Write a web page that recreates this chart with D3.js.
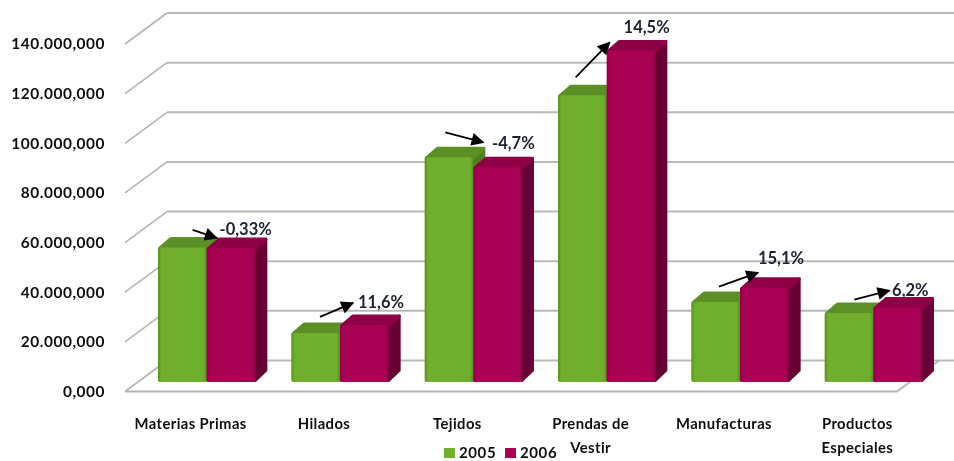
<!DOCTYPE html>
<html>
<head>
<meta charset="utf-8">
<script src="https://cdn.jsdelivr.net/npm/d3@7"></script>
<style>
  html, body { margin: 0; padding: 0; background: #fff; overflow: hidden; }
  text { font-family: "Lato", "Open Sans", sans-serif; fill: #111; }
  .ytick text { font-size: 15.4px; font-weight: 700; letter-spacing: 0.55px; }
  .xlabel { font-size: 14.8px; font-weight: 700; letter-spacing: 0.4px; }
  .pct { font-size: 16.5px; font-weight: 700; fill: #1a2230; }
  .legend-text { font-size: 15px; font-weight: 700; letter-spacing: 0.6px; }
</style>
</head>
<body>
<script>
// Chart data
var categories = ["Materias Primas", "Hilados", "Tejidos", "Prendas de Vestir", "Manufacturas", "Productos Especiales"];
var values2005 = [54200000, 19700000, 90500000, 115500000, 32200000, 27800000];
var values2006 = [54000000, 23000000, 86500000, 133600000, 38000000, 30000000];
var changeLabels = ["-0,33%", "11,6%", "-4,7%", "14,5%", "15,1%", "6,2%"];
var seriesNames = ["2005", "2006"];
var yTickValues = [0, 20000000, 40000000, 60000000, 80000000, 100000000, 120000000, 140000000];
var yTickLabels = ["0,000", "20.000,000", "40.000,000", "60.000,000", "80.000,000", "100.000,000", "120.000,000", "140.000,000"];

// Define SVG area dimensions
var svgWidth = 954;
var svgHeight = 461;

// Fake 3D: how far the back wall sits from the front edge of the floor
var wallDx = 42;
var wallDy = 31;
// Bars stand a little behind the front edge, and have their own depth
var barInsetY = 9.5;
var barDepthX = 12;
var barDepthY = 10.5;

var colors = {
  "2005": { front: "#70ae2f", edge: "#578f22", top: "#5c8f26", side: "#4f7f1f" },
  "2006": { front: "#a80052", edge: "#8f0045", top: "#8d0044", side: "#680034" }
};

var svg = d3.select("body")
  .append("svg")
  .attr("width", svgWidth)
  .attr("height", svgHeight);

var defs = svg.append("defs");

// The reference is a soft, upscaled image
defs.append("filter")
  .attr("id", "soft")
  .attr("x", "-5%").attr("y", "-5%").attr("width", "110%").attr("height", "110%")
  .append("feGaussianBlur")
  .attr("stdDeviation", 0.45);

seriesNames.forEach(function(name) {
  var grad = defs.append("linearGradient").attr("id", "front" + name);
  grad.append("stop").attr("offset", "0%").attr("stop-color", colors[name].edge);
  grad.append("stop").attr("offset", "7%").attr("stop-color", colors[name].front);
  grad.append("stop").attr("offset", "93%").attr("stop-color", colors[name].front);
  grad.append("stop").attr("offset", "100%").attr("stop-color", colors[name].edge);
});

var chartGroup = svg.append("g").attr("filter", "url(#soft)");

// Scales work on the front plane of the chart
var yScale = d3.scaleLinear()
  .domain([0, 140000000])
  .range([391.5, 44]);

var xBand = d3.scaleBand()
  .domain(categories)
  .range([140, 940])
  .paddingInner(0.27)
  .paddingOuter(0.135);

var xSeries = d3.scaleBand()
  .domain(seriesNames)
  .range([0, xBand.bandwidth()]);

var frontLeft = 125;
var frontRight = 897;

// Back wall and slanted lines
var grid = chartGroup.append("g");

yTickValues.forEach(function(v) {
  var y = yScale(v);
  grid.append("line")
    .attr("x1", frontLeft).attr("y1", y)
    .attr("x2", frontLeft + wallDx).attr("y2", y - wallDy)
    .attr("stroke", "#b4b4b4").attr("stroke-width", 1.6);
  grid.append("line")
    .attr("x1", frontLeft + wallDx).attr("y1", y - wallDy)
    .attr("x2", svgWidth).attr("y2", y - wallDy)
    .attr("stroke", "#b9b9b9").attr("stroke-width", 2);
});

// Floor front edge and right side
grid.append("path")
  .attr("d", d3.line()([
    [frontLeft, yScale(0)],
    [frontRight, yScale(0)],
    [frontRight + wallDx, yScale(0) - wallDy]
  ]))
  .attr("fill", "none")
  .attr("stroke", "#b4b4b4")
  .attr("stroke-width", 2);

// Left axis, only its labels are visible
var leftAxis = d3.axisLeft(yScale)
  .tickValues(yTickValues)
  .tickSize(0)
  .tickPadding(0)
  .tickFormat(function(d, i) { return yTickLabels[i]; });

chartGroup.append("g")
  .attr("class", "ytick")
  .attr("transform", "translate(105, 0)")
  .call(leftAxis)
  .call(function(g) { g.select(".domain").remove(); });

// One series per loop, 2005 first so that 2006 covers its side
var line = d3.line();
var rows = [];
categories.forEach(function(cat, i) {
  rows.push({ cat: cat, name: "2005", value: values2005[i] });
  rows.push({ cat: cat, name: "2006", value: values2006[i] });
});

var bars = chartGroup.selectAll(".bar")
  .data(rows)
  .enter()
  .append("g")
  .attr("class", "bar");

bars.each(function(d) {
  var g = d3.select(this);
  var x0 = xBand(d.cat) + xSeries(d.name);
  var w = xSeries.bandwidth();
  var yBase = yScale(0) - barInsetY;
  var yTop = yScale(d.value) - barInsetY;

  // side face
  g.append("path")
    .attr("d", line([
      [x0 + w, yTop],
      [x0 + w + barDepthX - 1, yTop - barDepthY + 1],
      [x0 + w + barDepthX - 1, yBase - barDepthY - 1],
      [x0 + w, yBase - 1]
    ]) + "Z")
    .attr("fill", colors[d.name].side)
    .attr("stroke", colors[d.name].side)
    .attr("stroke-width", 2)
    .attr("stroke-linejoin", "round");

  // top face, the thick round stroke gives the soft corners
  g.append("path")
    .attr("d", line([
      [x0 + 2, yTop + 1],
      [x0 + barDepthX + 1, yTop - barDepthY + 2],
      [x0 + w + barDepthX - 2, yTop - barDepthY + 2],
      [x0 + w - 1, yTop + 1]
    ]) + "Z")
    .attr("fill", colors[d.name].top)
    .attr("stroke", colors[d.name].top)
    .attr("stroke-width", 4)
    .attr("stroke-linejoin", "round");

  // front face
  g.append("rect")
    .attr("x", x0)
    .attr("y", yTop)
    .attr("width", w)
    .attr("height", yBase - yTop)
    .attr("rx", 2)
    .attr("fill", "url(#front" + d.name + ")");
});

// Change arrows, placed relative to the 2006 bar top: start, tip and label offsets
var arrowOffsets = [
  { sx: -14, sy: -18, tx: 10, ty: -10, lx: 39, ly: -19 },
  { sx: -20, sy: -8, tx: 13, ty: -22, lx: 41, ly: -23 },
  { sx: -28, sy: -35, tx: 10, ty: -25, lx: 40, ly: -24 },
  { sx: -31, sy: 27, tx: 3, ty: -8, lx: 40, ly: -23 },
  { sx: -21, sy: -1, tx: 18, ty: -15, lx: 41, ly: -29 },
  { sx: -19, sy: -8, tx: 16, ty: -17, lx: 37, ly: -17 }
];

defs.append("marker")
  .attr("id", "arrow")
  .attr("viewBox", "0 0 10 10")
  .attr("refX", 9)
  .attr("refY", 5)
  .attr("markerUnits", "userSpaceOnUse")
  .attr("markerWidth", 15)
  .attr("markerHeight", 13)
  .attr("orient", "auto")
  .append("path")
  .attr("d", "M0,0L10,5L0,10Z")
  .attr("fill", "#000");

categories.forEach(function(cat, i) {
  var cx = xBand(cat) + xBand.bandwidth() / 2;
  var cy = yScale(values2006[i]) - barInsetY;
  var o = arrowOffsets[i];
  chartGroup.append("line")
    .attr("x1", cx + o.sx).attr("y1", cy + o.sy)
    .attr("x2", cx + o.tx).attr("y2", cy + o.ty)
    .attr("stroke", "#000")
    .attr("stroke-width", 1.8)
    .attr("marker-end", "url(#arrow)");
  chartGroup.append("text")
    .attr("class", "pct")
    .attr("x", cx + o.lx)
    .attr("y", cy + o.ly)
    .attr("text-anchor", "middle")
    .attr("dy", "0.35em")
    .text(changeLabels[i]);
});

// Category labels, wrapped on the second word where the picture does
var wrapped = { "Prendas de Vestir": ["Prendas de", "Vestir"], "Productos Especiales": ["Productos", "Especiales"] };

categories.forEach(function(cat) {
  var lines = wrapped[cat] || [cat];
  var t = chartGroup.append("text")
    .attr("class", "xlabel")
    .attr("text-anchor", "middle");
  lines.forEach(function(s, j) {
    t.append("tspan")
      .attr("x", xBand(cat) + xBand.bandwidth() / 2 - 16)
      .attr("y", 429 + j * 24)
      .text(s);
  });
});

// Legend
var legendX = d3.scaleOrdinal().domain(seriesNames).range([444, 505]);

seriesNames.forEach(function(name) {
  chartGroup.append("rect")
    .attr("x", legendX(name))
    .attr("y", 448)
    .attr("width", 11)
    .attr("height", 10)
    .attr("fill", colors[name].front);
  chartGroup.append("text")
    .attr("class", "legend-text")
    .attr("x", legendX(name) + 15)
    .attr("y", 457.5)
    .text(name);
});
</script>
</body>
</html>
